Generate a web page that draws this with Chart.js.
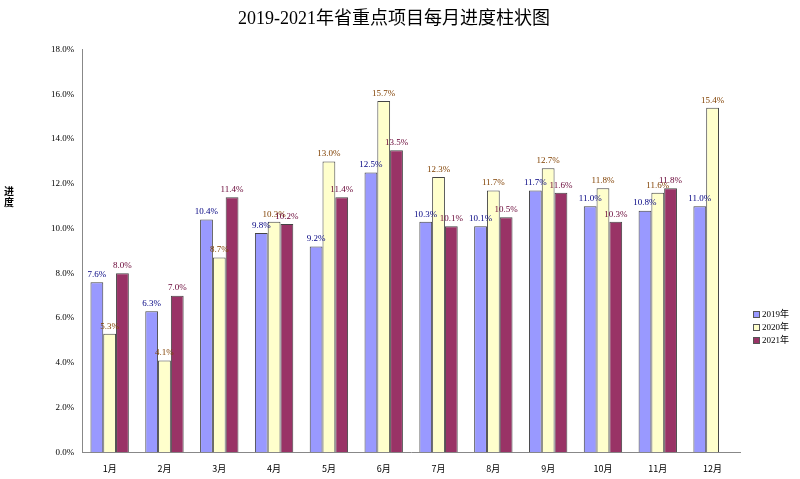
<!DOCTYPE html>
<html><head><meta charset="utf-8">
<script src="https://cdn.jsdelivr.net/npm/chart.js@4"></script>
<style>html,body{margin:0;padding:0;background:#fff}#w{width:800px;height:479px}</style>
</head><body><div id="w"><canvas id="c"></canvas></div>
<script>
const categories=['1月','2月','3月','4月','5月','6月','7月','8月','9月','10月','11月','12月'];
const seriesNames=['2019年','2020年','2021年'];
const v2019=[7.6,6.3,10.4,9.8,9.2,12.5,10.3,10.1,11.7,11.0,10.8,11.0];
const v2020=[5.3,4.1,8.7,10.3,13.0,15.7,12.3,11.7,12.7,11.8,11.6,15.4];
const v2021=[8.0,7.0,11.4,10.2,11.4,13.5,10.1,10.5,11.6,10.3,11.8,null];
const yTicks=[0,2,4,6,8,10,12,14,16,18];
const fills=['#9999ff','#ffffcc','#993366'];
const labCol=['#000080','#804000','#660033'];
const serif='"Liberation Serif","DejaVu Serif",serif';
const extra={id:'extra',afterDraw(ch){
  const c=ch.ctx;c.save();
  c.font='9px '+serif;c.textAlign='center';c.textBaseline='bottom';
  ch.data.datasets.forEach((ds,i)=>{ch.getDatasetMeta(i).data.forEach((b,j)=>{const v=ds.data[j];if(v==null)return;c.fillStyle=labCol[i];c.fillText(v.toFixed(1)+'%',b.x,b.y-3);});});
  c.fillStyle='#000';c.font='bold 10px "Noto Sans CJK SC"';c.textBaseline='middle';
  c.fillText('进',9,191);c.fillText('度',9,202);
  c.textAlign='left';c.font='9px "Liberation Serif","Noto Sans CJK SC"';
  seriesNames.forEach((n,i)=>{const y=315+i*13;c.fillStyle=fills[i];c.strokeStyle='#555';c.lineWidth=1;c.fillRect(753,y-4,7,7);c.strokeRect(753.5,y-3.5,6,6);c.fillStyle='#000';c.fillText(n,762,y);});
  c.restore();}};
new Chart(document.getElementById('c'),{type:'bar',
 data:{labels:categories,datasets:[v2019,v2020,v2021].map((d,i)=>({label:seriesNames[i],data:d,backgroundColor:fills[i],borderColor:'#444',borderWidth:1,categoryPercentage:0.7,barPercentage:1}))},
 options:{responsive:true,maintainAspectRatio:false,animation:false,
  layout:{padding:{left:48,right:60,top:4,bottom:2}},
  plugins:{legend:{display:false},tooltip:{enabled:false},
   title:{display:true,text:'2019-2021年省重点项目每月进度柱状图',color:'#000',font:{family:'"Liberation Serif","Noto Sans CJK SC"',size:18,weight:'normal'},padding:{top:4,bottom:20}}},
  scales:{
   x:{grid:{display:false,drawTicks:true},border:{color:'#888'},ticks:{color:'#000',font:{family:'"Noto Sans CJK SC"',size:9}}},
   y:{min:0,max:18,afterBuildTicks:a=>{a.ticks=yTicks.map(v=>({value:v}));},grid:{display:false,drawTicks:true,tickLength:5,color:'#888'},border:{color:'#888'},ticks:{color:'#000',font:{family:serif,size:9},callback:v=>v.toFixed(1)+'%'}}}},
 plugins:[extra]});
</script></body></html>
